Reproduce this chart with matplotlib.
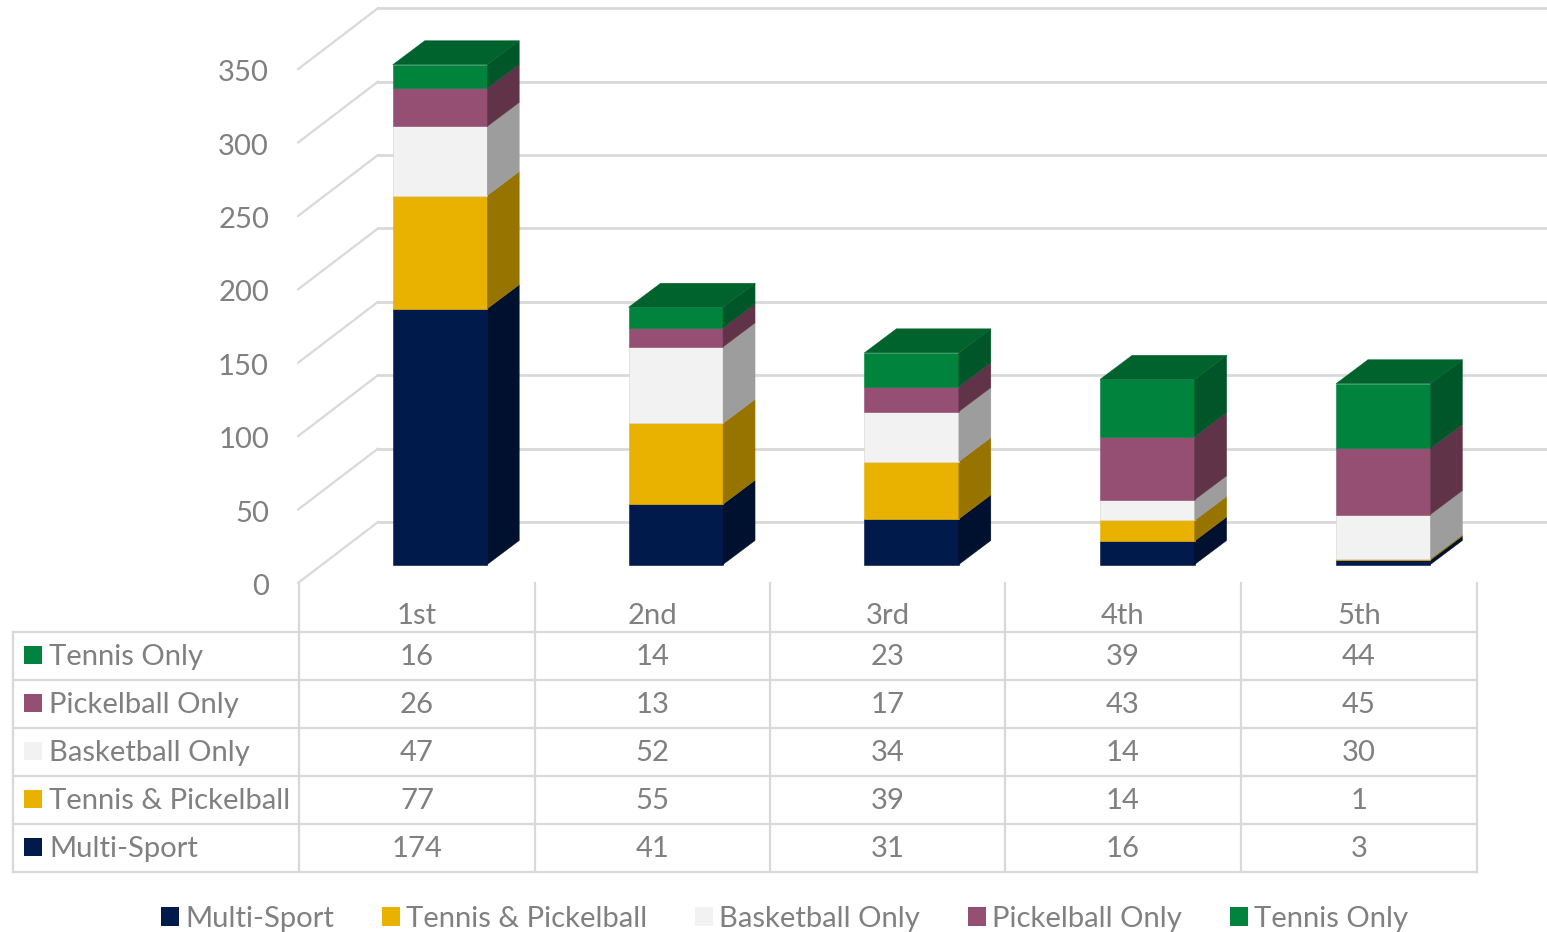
import matplotlib
matplotlib.use("Agg")
import matplotlib.pyplot as plt
from matplotlib.patches import Patch
import numpy as np

plt.rcParams['font.family'] = ['Lato', 'DejaVu Sans']

# ---- data ----
categories = ["1st", "2nd", "3rd", "4th", "5th"]
series_names = ["Multi-Sport", "Tennis & Pickelball", "Basketball Only", "Pickelball Only", "Tennis Only"]
multi_sport = [174, 41, 31, 16, 3]
tennis_pickelball = [77, 55, 39, 14, 1]
basketball_only = [47, 52, 34, 14, 30]
pickelball_only = [26, 13, 17, 43, 45]
tennis_only = [16, 14, 23, 39, 44]
y_ticks = [0, 50, 100, 150, 200, 250, 300, 350]

series_values = [multi_sport, tennis_pickelball, basketball_only, pickelball_only, tennis_only]
front_colors = ["#001A4C", "#EAB200", "#F2F2F2", "#954F72", "#00843D"]
side_colors = ["#00112F", "#977300", "#9D9D9D", "#613348", "#005628"]
top_color = "#00632E"
grid_color = "#D9D9D9"
text_color = "#808080"

W, H = 1547, 932
FS = 21.05
fig = plt.figure(figsize=(W / 100, H / 100), dpi=100)

# overlay in figure pixels for table and wall layout
lay = fig.add_axes([0, 0, 1, 1])
lay.set_xlim(0, W)
lay.set_ylim(H, 0)
lay.axis("off")

# main plotting axes: x = category index, y = value
ax = fig.add_axes([0, 0, 1, 1], facecolor="none")
x_step, y_px = 235.8, 1.47
x0_px, y0_px = 440, 564.5
ax.set_xlim((0 - x0_px) / x_step, (W - x0_px) / x_step)
ax.set_ylim((y0_px - H) / y_px, y0_px / y_px)
ax.axis("off")

# walls
front_x, back_x = 298, 378
for v in y_ticks:
    yf = 583 - v * 1.468
    yb = 522 - v * 1.468
    lay.plot([front_x, back_x], [yf, yb], color=grid_color, lw=1.6, solid_capstyle="round", zorder=1)
    lay.plot([back_x, W], [yb, yb], color=grid_color, lw=2.0, zorder=1)
    lay.text(269, yf + 4, str(v), ha="right", va="center", fontsize=FS, color=text_color)

# stacked 3-D bars
bar_w = 94.5 / x_step
dx, dy = 32 / x_step, 24 / y_px
xs = np.arange(len(categories))
bottom = np.zeros(len(categories))
for vals, fc, sc in zip(series_values, front_colors, side_colors):
    vals = np.array(vals, dtype=float)
    edge = "#D4D4D4" if fc == "#F2F2F2" else fc
    ax.bar(xs, vals, bar_w, bottom=bottom, color=fc, edgecolor=edge, linewidth=0.4, zorder=3)
    for x, b, v in zip(xs, bottom, vals):
        r = x + bar_w / 2
        ax.fill([r, r + dx, r + dx, r], [b, b + dy, b + v + dy, b + v], color=sc, lw=0.3, zorder=3)
    bottom += vals
for x, t in zip(xs, bottom):
    l, r = x - bar_w / 2, x + bar_w / 2
    ax.fill([l, r, r + dx, l + dx], [t, t, t + dy, t + dy], color=top_color, lw=0.3, zorder=3)

# data table
col_lines = [299, 535, 770, 1005, 1241, 1477]
row_lines = [632, 680, 728, 776, 824, 872]
for y in row_lines:
    lay.plot([13, 1477], [y, y], color=grid_color, lw=1.6, zorder=1)
lay.plot([13, 13], [632, 872], color=grid_color, lw=1.6, zorder=1)
for x in col_lines:
    lay.plot([x, x], [583, 872], color=grid_color, lw=1.6, zorder=1)
for i, c in enumerate(categories):
    cx = (col_lines[i] + col_lines[i + 1]) / 2
    lay.text(cx, 616, c, ha="center", va="center", fontsize=FS, color=text_color)
for r, k in enumerate(reversed(range(len(series_names)))):
    yc = (row_lines[r] + row_lines[r + 1]) / 2 - 1
    lay.fill([24, 42, 42, 24], [yc - 9, yc - 9, yc + 9, yc + 9], color=front_colors[k], lw=0)
    lay.text(49, yc + 2, series_names[k], ha="left", va="center", fontsize=FS, color=text_color)
    for i, v in enumerate(series_values[k]):
        cx = (col_lines[i] + col_lines[i + 1]) / 2
        lay.text(cx, yc + 2, str(v), ha="center", va="center", fontsize=FS, color=text_color)

# legend
handles = [Patch(facecolor=c, edgecolor="none", label=n) for c, n in zip(front_colors, series_names)]
px = FS * 100 / 72
fig.legend(handles=handles, loc="center", bbox_to_anchor=(784.5 / W, 1 - 919 / H), ncol=5, frameon=False,
           fontsize=FS, labelcolor=text_color, handlelength=18 / px, handleheight=18 / px,
           handletextpad=6.5 / px, columnspacing=47.5 / px, borderpad=0, borderaxespad=0)

fig.savefig("out.png", dpi=100)
